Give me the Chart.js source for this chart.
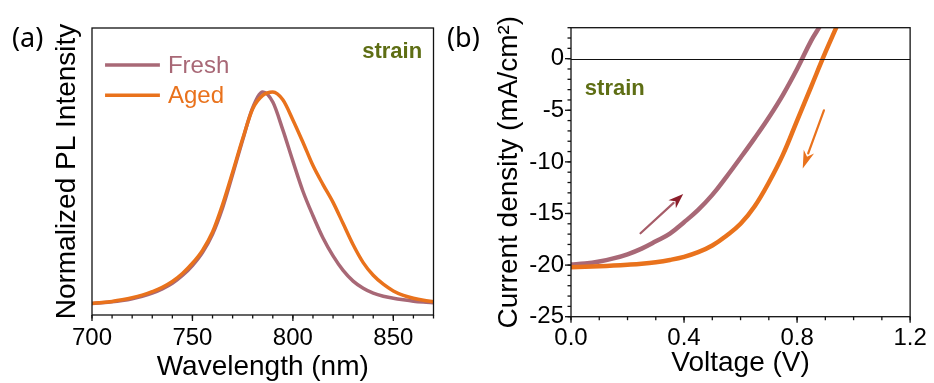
<!DOCTYPE html>
<html><head><meta charset="utf-8">
<script src="https://cdn.jsdelivr.net/npm/chart.js@4.4.0/dist/chart.umd.min.js"></script>
<style>
html,body{margin:0;padding:0;background:#fff;}
body{width:934px;height:383px;position:relative;overflow:hidden;}
canvas{position:absolute;top:0;}
#ca{left:0} #cb{left:440px}
</style></head><body>
<canvas id="ca" width="467" height="383"></canvas>
<canvas id="cb" width="494" height="383"></canvas>
<script>
// ---------- Panel (a): PL spectra ----------
const wavelength = [700,705,710,715,720,725,730,735,740,745,750,755,760,765,770,775,780,785,790,795,800,805,810,815,820,825,830,835,840,845,850,855,860,865,870];
const plFresh = [0.052,0.055,0.059,0.065,0.073,0.084,0.098,0.117,0.142,0.177,0.222,0.280,0.362,0.480,0.630,0.785,0.930,1.000,0.955,0.830,0.690,0.555,0.445,0.345,0.265,0.200,0.152,0.120,0.098,0.084,0.075,0.068,0.062,0.058,0.055];
const plAged  = [0.052,0.056,0.061,0.068,0.077,0.089,0.105,0.124,0.150,0.186,0.232,0.290,0.372,0.495,0.640,0.790,0.925,0.985,1.000,0.965,0.875,0.775,0.670,0.585,0.505,0.410,0.315,0.235,0.178,0.138,0.108,0.088,0.075,0.066,0.060];
const wlTicks = [700,750,800,850];

// ---------- Panel (b): J-V curves ----------
const voltageFresh = [0,0.05,0.1,0.15,0.2,0.25,0.3,0.35,0.4,0.45,0.5,0.55,0.6,0.65,0.7,0.75,0.8,0.85,0.88];
const jFresh = [-19.95,-19.85,-19.65,-19.35,-18.95,-18.4,-17.7,-16.95,-15.85,-14.65,-13.2,-11.45,-9.6,-7.7,-5.7,-3.5,-1.0,1.75,3.1];
const voltageAged = [0,0.05,0.1,0.15,0.2,0.25,0.3,0.35,0.4,0.45,0.5,0.55,0.6,0.65,0.7,0.75,0.8,0.85,0.9,0.94];
const jAged = [-20.2,-20.17,-20.12,-20.05,-19.97,-19.87,-19.72,-19.5,-19.2,-18.75,-18.1,-17.15,-16.0,-14.3,-12.0,-9.3,-6.0,-2.7,0.6,3.1];
const vTicks = [0,0.4,0.8,1.2];
const jTicks = [-25,-20,-15,-10,-5,0];
const arrowFresh = [[0.246,-16.92],[0.397,-13.12]];
const arrowAged = [[0.895,-5.0],[0.820,-10.64]];

const seriesNames = ['Fresh','Aged'];
const C_FRESH = 'rgb(168,104,118)';
const C_AGED = 'rgb(233,114,28)';
const C_STRAIN = 'rgb(94,110,20)';
const FONT = '"Liberation Sans", Arial, sans-serif';

const framePlugin = {
  id: 'frame',
  afterDraw(chart, args, o) {
    const ctx = chart.ctx, a = chart.chartArea;
    const xs = chart.scales.x, ys = chart.scales.y;
    ctx.save();
    ctx.strokeStyle = '#111';
    ctx.lineWidth = 1.3;
    if (o.zeroLine) {
      const y0 = Math.round(ys.getPixelForValue(0)) + 0.5;
      ctx.lineWidth = 1.1;
      ctx.beginPath(); ctx.moveTo(a.left, y0); ctx.lineTo(a.right, y0); ctx.stroke();
      ctx.lineWidth = 1.3;
    }
    ctx.strokeRect(a.left, a.top, a.right - a.left, a.bottom - a.top);
    const drawX = (v, len) => {
      const p = xs.getPixelForValue(v);
      ctx.beginPath(); ctx.moveTo(p, a.bottom); ctx.lineTo(p, a.bottom + len); ctx.stroke();
    };
    const drawY = (v, len) => {
      const p = ys.getPixelForValue(v);
      ctx.beginPath(); ctx.moveTo(a.left, p); ctx.lineTo(a.left - len, p); ctx.stroke();
    };
    if (o.xMinor) {
      for (let i = 0; ; i++) {
        const v = xs.min + i * o.xMinor;
        if (v > xs.max + 1e-9) break;
        drawX(v, 3.5);
      }
      o.xMajor.forEach(v => drawX(v, 6));
    }
    if (o.yMinor) {
      for (let i = 0; ; i++) {
        const v = ys.min + i * o.yMinor;
        if (v > ys.max + 1e-9) break;
        drawY(v, 3.5);
      }
      o.yMajor.forEach(v => drawY(v, 6));
    }
    (o.arrows || []).forEach(ar => {
      const x1 = xs.getPixelForValue(ar.pts[0][0]), y1 = ys.getPixelForValue(ar.pts[0][1]);
      const x2 = xs.getPixelForValue(ar.pts[1][0]), y2 = ys.getPixelForValue(ar.pts[1][1]);
      const ang = Math.atan2(y2 - y1, x2 - x1);
      const hl = ar.head, hw = ar.headW;
      const bx = x2 - hl * Math.cos(ang), by = y2 - hl * Math.sin(ang);
      ctx.strokeStyle = ar.color; ctx.lineWidth = ar.width; ctx.lineCap = 'round';
      ctx.beginPath(); ctx.moveTo(x1, y1); ctx.lineTo(bx + 2*Math.cos(ang), by + 2*Math.sin(ang)); ctx.stroke();
      ctx.fillStyle = ar.headColor;
      ctx.beginPath();
      ctx.moveTo(x2, y2);
      ctx.lineTo(bx + hw/2 * Math.sin(ang), by - hw/2 * Math.cos(ang));
      ctx.lineTo(x2 - hl*0.7*Math.cos(ang), y2 - hl*0.7*Math.sin(ang));
      ctx.lineTo(bx - hw/2 * Math.sin(ang), by + hw/2 * Math.cos(ang));
      ctx.closePath(); ctx.fill();
    });
    ctx.textBaseline = 'middle';
    (o.texts || []).forEach(t => {
      ctx.font = t.font; ctx.fillStyle = t.color; ctx.textAlign = 'left';
      const x = t.px !== undefined ? t.px : xs.getPixelForValue(t.x);
      const y = t.py !== undefined ? t.py : ys.getPixelForValue(t.y);
      ctx.fillText(t.text, x, y);
    });
    if (o.legend) {
      const L = o.legend;
      chart.data.datasets.slice().sort((p,q)=>p.legendIndex-q.legendIndex).forEach((ds, i) => {
        const y = ys.getPixelForValue(L.y[i]);
        const xa = xs.getPixelForValue(L.x0), xb = xs.getPixelForValue(L.x1);
        ctx.strokeStyle = ds.borderColor; ctx.lineWidth = 3.5; ctx.lineCap = 'butt';
        ctx.beginPath(); ctx.moveTo(xa, y); ctx.lineTo(xb, y); ctx.stroke();
        ctx.fillStyle = ds.borderColor; ctx.font = '24px ' + FONT; ctx.textAlign = 'left';
        ctx.fillText(ds.label, xs.getPixelForValue(L.tx), y + 1);
      });
    }
    ctx.restore();
  }
};

const tickFont = {family: FONT, size: 24};
const titleFont = {family: FONT, size: 28, lineHeight: 1};
const noGrid = {display: false, drawTicks: false};

// ---------- Chart (a) ----------
new Chart(document.getElementById('ca'), {
  type: 'line',
  data: {
    datasets: [
      {label: seriesNames[1], legendIndex: 1, data: wavelength.map((w,i)=>({x:w,y:plAged[i]})), borderColor: C_AGED, borderWidth: 3.5, pointRadius: 0, cubicInterpolationMode: 'monotone', order: 0},
      {label: seriesNames[0], legendIndex: 0, data: wavelength.map((w,i)=>({x:w,y:plFresh[i]})), borderColor: C_FRESH, borderWidth: 3.5, pointRadius: 0, cubicInterpolationMode: 'monotone', order: 1}
    ]
  },
  options: {
    responsive: false, animation: false, events: [],
    layout: {padding: {top: 28, right: 33.5, left: 0, bottom: 0}},
    plugins: {
      legend: {display: false}, tooltip: {enabled: false},
      frame: {
        xMinor: 10, xMajor: wlTicks,
        legend: {x0: 706.5, x1: 733.8, tx: 737.8, y: [1.121, 0.985]},
        texts: [
          {text: 'strain', x: 834.5, y: 1.18, font: 'bold 22px ' + FONT, color: C_STRAIN},
          {text: '(a)', px: 12, py: 39, font: '27px "Noto Sans", ' + FONT, color: '#000'}
        ]
      }
    },
    scales: {
      x: {
        type: 'linear', min: 700, max: 870,
        afterBuildTicks: s => { s.ticks = wlTicks.map(v => ({value: v})); },
        afterFit: s => { s.height = 68; },
        grid: noGrid, border: {display: false},
        ticks: {font: tickFont, color: '#000', padding: 8.9, maxRotation: 0, autoSkip: false},
        title: {display: true, text: 'Wavelength (nm)', font: titleFont, color: '#000', padding: {top: 0, bottom: 1.5}}
      },
      y: {
        type: 'linear', min: 0, max: 1.287,
        afterFit: s => { s.width = 92; },
        grid: noGrid, border: {display: false},
        ticks: {display: false},
        title: {display: true, text: 'Normalized PL Intensity', font: titleFont, color: '#000', padding: {top: 53, bottom: 0}}
      }
    }
  },
  plugins: [framePlugin]
});

// ---------- Chart (b) ----------
new Chart(document.getElementById('cb'), {
  type: 'line',
  data: {
    datasets: [
      {label: seriesNames[1], legendIndex: 1, data: voltageAged.map((v,i)=>({x:v,y:jAged[i]})), borderColor: C_AGED, borderWidth: 4.5, pointRadius: 0, tension: 0.4, order: 0},
      {label: seriesNames[0], legendIndex: 0, data: voltageFresh.map((v,i)=>({x:v,y:jFresh[i]})), borderColor: C_FRESH, borderWidth: 4.5, pointRadius: 0, tension: 0.4, order: 1}
    ]
  },
  options: {
    responsive: false, animation: false, events: [],
    layout: {padding: {top: 27.7, right: 18.3, left: 0, bottom: 0}},
    plugins: {
      legend: {display: false}, tooltip: {enabled: false},
      frame: {
        zeroLine: true,
        xMinor: 0.1, xMajor: vTicks,
        yMinor: 1, yMajor: jTicks,
        arrows: [
          {pts: arrowFresh, color: 'rgb(166,92,104)', headColor: 'rgb(140,30,42)', width: 2.2, head: 15, headW: 11},
          {pts: arrowAged, color: C_AGED, headColor: C_AGED, width: 2.2, head: 18, headW: 11}
        ],
        texts: [
          {text: 'strain', x: 0.049, y: -2.9, font: 'bold 22px ' + FONT, color: C_STRAIN},
          {text: '(b)', px: 7, py: 39, font: '27px "Noto Sans", ' + FONT, color: '#000'}
        ]
      }
    },
    scales: {
      x: {
        type: 'linear', min: 0, max: 1.2,
        afterBuildTicks: s => { s.ticks = vTicks.map(v => ({value: v})); },
        afterFit: s => { s.height = 66.3; },
        grid: noGrid, border: {display: false},
        ticks: {font: tickFont, color: '#000', padding: 7.2, maxRotation: 0, autoSkip: false, callback: v => v.toFixed(1)},
        title: {display: true, text: 'Voltage (V)', font: titleFont, color: '#000', padding: {top: 0, bottom: 6}}
      },
      y: {
        type: 'linear', min: -25, max: 3,
        afterBuildTicks: s => { s.ticks = jTicks.map(v => ({value: v})); },
        afterFit: s => { s.width = 131; },
        grid: noGrid, border: {display: false},
        ticks: {font: tickFont, color: '#000', padding: 7, autoSkip: false, callback: v => String(v)},
        title: {display: true, text: 'Current density (mA/cm²)', font: titleFont, color: '#000', padding: {top: 55.5, bottom: 0}}
      }
    }
  },
  plugins: [framePlugin]
});
</script>
</body></html>
